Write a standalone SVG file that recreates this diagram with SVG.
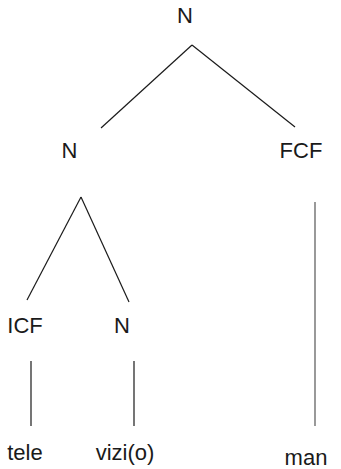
<svg xmlns="http://www.w3.org/2000/svg" width="341" height="469" viewBox="0 0 341 469">
<style>
text{font-family:"Liberation Sans",Arial,sans-serif;font-size:22px;fill:#1a1a1a;text-anchor:middle}
.e{stroke:#1a1a1a;stroke-width:1.2;fill:none}
.g{stroke:#808080;stroke-width:1.6;fill:none}
</style>
<rect width="341" height="469" fill="#fff"/>
<g id="connectors">
<line class="e" x1="192" y1="45" x2="101" y2="128"/>
<line class="e" x1="192" y1="45" x2="295" y2="127"/>
<line class="e" x1="81" y1="197" x2="27" y2="300"/>
<line class="e" x1="81" y1="197" x2="129" y2="302"/>
<line class="g" x1="315" y1="202" x2="315" y2="426"/>
<line class="e" x1="31" y1="361" x2="31" y2="426"/>
<line class="e" x1="134" y1="361" x2="134" y2="426"/>
</g>
<g id="n-root"><text x="185" y="23">N</text></g>
<g id="n-left"><text x="69.5" y="158">N</text></g>
<g id="n-fcf"><text x="301" y="158">FCF</text></g>
<g id="n-icf"><text x="25" y="333">ICF</text></g>
<g id="n-n2"><text x="122" y="333">N</text></g>
<g id="n-tele"><text x="25" y="460">tele</text></g>
<g id="n-vizi"><text x="125" y="460">vizi(o)</text></g>
<g id="n-man"><text x="306" y="465">man</text></g>
</svg>
